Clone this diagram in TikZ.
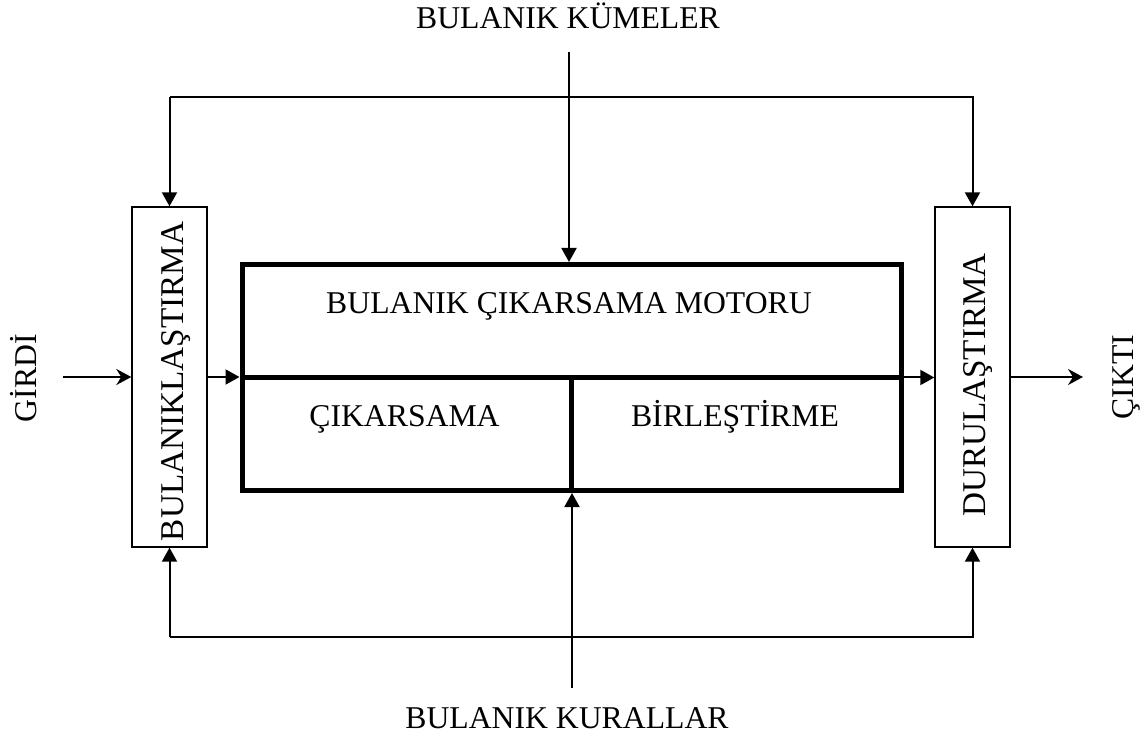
\documentclass[tikz,border=0pt]{standalone}
\usepackage{fontspec}
\setmainfont{Liberation Serif}
\usetikzlibrary{arrows.meta}
\def\px{0.5pt}

\tikzset{
  lbl/.style={inner sep=0pt, font=\fontsize{15.85}{19}\selectfont},
  vlbl/.style={lbl, rotate=90, anchor=base, font=\fontsize{16.6}{20}\selectfont},
  blockbox/.style={draw, line width=0.7pt, minimum width=37.5pt, minimum height=170pt, inner sep=0pt},
  enginebox/.style={draw, line width=2.5pt, minimum width=329.5pt, minimum height=113pt, inner sep=0pt},
  arr/.style={line width=1pt, -{Triangle[length=7pt,width=7.5pt]}},
  io/.style={line width=1pt, -{Stealth[length=7.5pt,width=8pt,inset=2.5pt]}},
}

\begin{document}
\begin{tikzpicture}[x=\px, y=-\px]
\useasboundingbox (0,0) rectangle (1148,738);
% blocks
\node[blockbox] (fuzz) at (169.5,377) {};
\node[blockbox] (defuzz) at (972.5,377) {};
\node[enginebox] (engine) at (571.5,377.5) {};
% engine inner lines
\draw[line width=2.5pt] (engine.west) -- (engine.east);
\draw[line width=2.5pt] (engine.center) -- (engine.south);

% texts
\node[lbl, anchor=base] (sets) at (568,29) {BULANIK KÜMELER};
\node[lbl, anchor=base] (rules) at (567,728) {BULANIK KURALLAR};
\node[lbl, anchor=base] (motor) at (569,314) {BULANIK ÇIKARSAMA MOTORU};
\node[lbl, anchor=base] (infer) at (404.5,427) {ÇIKARSAMA};
\node[lbl, anchor=base] (aggr) at (735,427) {BİRLEŞTİRME};
\node[vlbl] (fuzzlbl) at (183,381.5) {BULANIKLAŞTIRMA};
\node[vlbl] (defuzzlbl) at (985,385) {DURULAŞTIRMA};
\node[lbl, anchor=base, rotate=90] (inlbl) at (37,378) {GİRDİ};
\node[lbl, anchor=base, rotate=90] (outlbl) at (1133,377) {ÇIKTI};

% free ends
\coordinate (ktop) at (569,52);
\coordinate (kbot) at (572,688);
\coordinate (tl) at (169.5,97);
\coordinate (tr) at (972.5,97);
\coordinate (bl) at (169.5,637);
\coordinate (br) at (972.5,637);
\coordinate (in) at (63,377);
\coordinate (out) at (1083,377);

% sets and rules
\draw[arr] (ktop) -- (ktop |- engine.north);
\draw[arr] (kbot) -- (kbot |- engine.south);
% feedback loops
\draw[arr] (tl) -- (fuzz.north);
\draw[arr] (tl) -- (tr) -- (defuzz.north);
\draw[arr] (bl) -- (fuzz.south);
\draw[arr] (bl) -- (br) -- (defuzz.south);
% main flow
\draw[io] (in) -- (fuzz.west);
\draw[arr] (fuzz.east) -- (fuzz.east -| engine.west);
\draw[arr] (engine.east) -- (engine.east -| defuzz.west);
\draw[io] (defuzz.east) -- (out);
\end{tikzpicture}
\end{document}
